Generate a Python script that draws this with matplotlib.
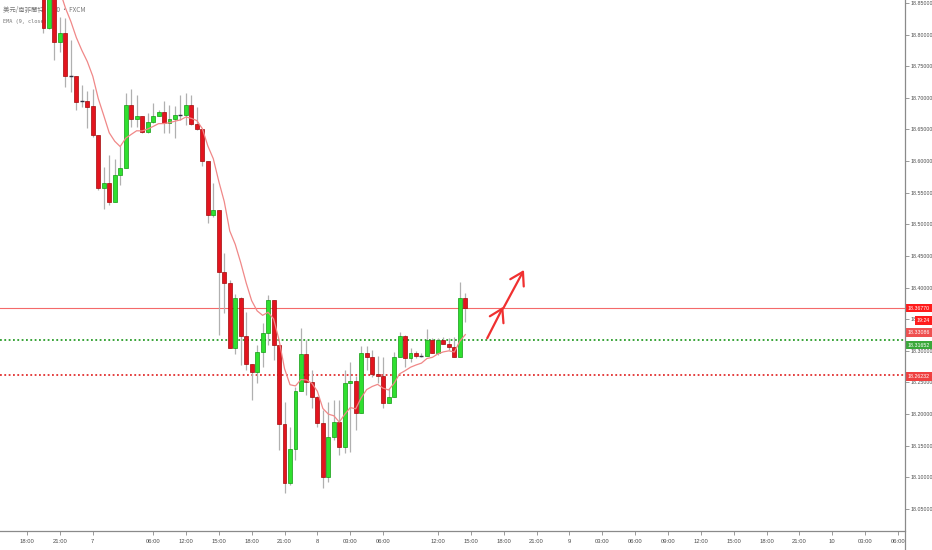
import numpy as np
import matplotlib
matplotlib.use("Agg")
import matplotlib.pyplot as plt
from matplotlib.patches import Rectangle
from matplotlib.lines import Line2D
from matplotlib.transforms import blended_transform_factory

# ---------------- data (USD/ZAR, 30 min candles) ----------------
opens = [18.8674, 18.8100, 18.8626, 18.7883, 18.8026, 18.7346, 18.7346, 18.6950, 18.6955, 18.6872,
         18.6413, 18.5575, 18.5654, 18.5354, 18.5781, 18.5891, 18.6887, 18.6661, 18.6713, 18.6465,
         18.6623, 18.6713, 18.6772, 18.6598, 18.6661, 18.6729, 18.6729, 18.6887, 18.6582, 18.6503,
         18.6002, 18.5148, 18.5227, 18.4252, 18.4078, 18.3041, 18.3841, 18.3240, 18.2788, 18.2671,
         18.2987, 18.3278, 18.3804, 18.3093, 18.1839, 18.0906, 18.1444, 18.2370, 18.2951, 18.2513,
         18.2276, 18.1855, 18.1001, 18.1643, 18.1871, 18.1476, 18.2487, 18.2524, 18.2013, 18.2962,
         18.2899, 18.2634, 18.2603, 18.2171, 18.2266, 18.2908, 18.3235, 18.2883, 18.2962, 18.2924,
         18.2924, 18.3172, 18.2971, 18.3172, 18.3109, 18.3066, 18.2908, 18.3831]
closes = [18.8100, 18.8626, 18.7879, 18.8026, 18.7346, 18.7346, 18.6935, 18.6950, 18.6861, 18.6413,
          18.5575, 18.5654, 18.5354, 18.5781, 18.5891, 18.6887, 18.6661, 18.6713, 18.6465, 18.6623,
          18.6713, 18.6772, 18.6598, 18.6661, 18.6729, 18.6729, 18.6887, 18.6582, 18.6503, 18.6002,
          18.5148, 18.5227, 18.4252, 18.4078, 18.3041, 18.3841, 18.3240, 18.2788, 18.2671, 18.2987,
          18.3278, 18.3804, 18.3093, 18.1839, 18.0906, 18.1444, 18.2370, 18.2951, 18.2513, 18.2276,
          18.1855, 18.1001, 18.1643, 18.1871, 18.1476, 18.2487, 18.2524, 18.2013, 18.2962, 18.2899,
          18.2634, 18.2603, 18.2171, 18.2266, 18.2908, 18.3235, 18.2883, 18.2962, 18.2919, 18.2924,
          18.3172, 18.2971, 18.3172, 18.3109, 18.3066, 18.2908, 18.3831, 18.3677]
highs = [18.8785, 18.8700, 18.8700, 18.8279, 18.8263, 18.7915, 18.7350, 18.7204, 18.7109, 18.7140,
         18.6420, 18.5907, 18.6097, 18.6034, 18.6239, 18.7082, 18.7136, 18.7045, 18.6715, 18.6761,
         18.6919, 18.6808, 18.6955, 18.6887, 18.6872, 18.7045, 18.7082, 18.7045, 18.6861, 18.6505,
         18.6005, 18.5659, 18.5230, 18.4547, 18.4121, 18.3899, 18.3845, 18.3619, 18.2790, 18.3093,
         18.3441, 18.3883, 18.3806, 18.3095, 18.2197, 18.1801, 18.2434, 18.3357, 18.3172, 18.2698,
         18.2280, 18.2065, 18.2197, 18.2223, 18.2223, 18.2698, 18.2829, 18.2603, 18.3077, 18.3077,
         18.3014, 18.2919, 18.2903, 18.2413, 18.2987, 18.3303, 18.3251, 18.3046, 18.2998, 18.2966,
         18.3341, 18.3199, 18.3204, 18.3224, 18.3199, 18.3224, 18.4093, 18.3910]
lows = [18.8021, 18.8095, 18.7599, 18.7725, 18.7172, 18.7093, 18.6808, 18.6856, 18.6524, 18.6381,
        18.5544, 18.5243, 18.5307, 18.5350, 18.5623, 18.5890, 18.6544, 18.6544, 18.6449, 18.6445,
        18.6609, 18.6710, 18.6445, 18.6445, 18.6366, 18.6650, 18.6571, 18.6571, 18.6492, 18.5923,
        18.5027, 18.5117, 18.3251, 18.3599, 18.3040, 18.2951, 18.2777, 18.2698, 18.2223, 18.2492,
        18.2750, 18.3093, 18.2856, 18.1433, 18.0758, 18.0880, 18.1275, 18.2368, 18.2300, 18.2097,
        18.1800, 18.0827, 18.0922, 18.1591, 18.1354, 18.1386, 18.1406, 18.1749, 18.2010, 18.2698,
        18.2592, 18.2492, 18.2097, 18.2168, 18.2264, 18.2905, 18.2750, 18.2829, 18.2888, 18.2903,
        18.2922, 18.2969, 18.2935, 18.3107, 18.3014, 18.2906, 18.2905, 18.3454]
ema_period = 9
ema_seed = 18.95          # EMA value before the first visible bar

# horizontal levels
last_price = 18.36770
support_green = 18.31652
support_red = 18.26232
ema_label = 18.33086
countdown = "19:24"

# time axis (bar index -> label)
xtick_pos = [-3, 3, 9, 20, 26, 32, 38, 44, 50, 56, 62, 72, 78, 84, 90, 96, 102, 108, 114, 120,
             126, 132, 138, 144, 150, 156]
xtick_lab = ["18:00", "21:00", "7", "06:00", "12:00", "15:00", "18:00", "21:00", "8", "03:00",
             "06:00", "12:00", "15:00", "18:00", "21:00", "9", "03:00", "06:00", "09:00", "12:00",
             "15:00", "18:00", "21:00", "10", "03:00", "06:00"]
ytick_vals = [18.05, 18.10, 18.15, 18.20, 18.25, 18.30, 18.35, 18.40, 18.45, 18.50, 18.55,
              18.60, 18.65, 18.70, 18.75, 18.80, 18.85]

# hand-drawn arrows (tail -> head) in (bar index, price)
arrows = [((81.0, 18.3199), (83.94, 18.3698)),
          ((83.94, 18.3673), (87.71, 18.4279))]

title_text = "美元/南非蘭特 · 30 · FXCM"
ema_text = "EMA (9, close)"

# ---------------- drawing ----------------
W, H = 932, 550
fig = plt.figure(figsize=(W / 100, H / 100), dpi=100)
fig.patch.set_facecolor("white")
axB, axR = 19, 905
ax = fig.add_axes([0, axB / H, axR / W, (H - axB) / H])
ax.set_facecolor("white")

ax.set_xlim(-7.94, 157.27)
ax.set_ylim(18.0152, 18.8547)

o = np.array(opens); c = np.array(closes); hi = np.array(highs); lo = np.array(lows)
x = np.arange(len(o))
up = c > o
dn = c < o
dj = c == o

GREEN = "#2fe02f"; GREEN_E = "#139a13"
RED = "#e3141e"; RED_E = "#a00a0a"
bw = 0.72

ax.vlines(x, lo, hi, color="#b0b0b0", lw=0.9, zorder=2)
ax.bar(x[up], (c - o)[up], bottom=o[up], width=bw, color=GREEN, edgecolor=GREEN_E, lw=0.5, zorder=3)
ax.bar(x[dn], (o - c)[dn], bottom=c[dn], width=bw, color=RED, edgecolor=RED_E, lw=0.5, zorder=3)
ax.hlines(c[dj], x[dj] - bw / 2, x[dj] + bw / 2, color="#333344", lw=1.0, zorder=3)

# EMA
alpha = 2 / (ema_period + 1)
ema = []
prev = ema_seed
for v in closes:
    prev = alpha * v + (1 - alpha) * prev
    ema.append(prev)
ax.plot(x, ema, color="#f08888", lw=0.9, zorder=4)

# levels
ax.axhline(last_price, color="#f46a6a", lw=0.8, zorder=1.5)
ax.axhline(support_green, color="#2a9d2a", lw=1.3, ls=(0, (1, 1.4)), zorder=1.5)
ax.axhline(support_red, color="#e23030", lw=1.3, ls=(0, (1, 1.4)), zorder=1.5)

# arrows
for tail, head in arrows:
    ax.annotate("", xy=head, xytext=tail,
                arrowprops=dict(arrowstyle="->,head_length=0.9,head_width=0.55",
                                color="#f03030", lw=1.6, mutation_scale=10,
                                shrinkA=0, shrinkB=0), zorder=5)

# legend text (behind candles)
ax.text(3 / axR, 1 - 10 / (H - axB), title_text, transform=ax.transAxes, fontsize=4.6,
        color="#777777", va="center", ha="left", zorder=0.5,
        family=["Noto Sans CJK TC", "DejaVu Sans"])
ax.text(3 / axR, 1 - 22 / (H - axB), ema_text, transform=ax.transAxes, fontsize=3.8,
        color="#777777", va="center", ha="left", zorder=0.5, family="DejaVu Sans Mono")

# axes styling
for s in ("left", "top", "right"):
    ax.spines[s].set_visible(False)
ax.spines["bottom"].set_color("#8a8a8a")
ax.spines["bottom"].set_linewidth(0.9)
fig.add_artist(Line2D([axR / W, axR / W], [0, 1], transform=fig.transFigure,
                      color="#8a8a8a", lw=0.9))

tickfont = "Liberation Sans"
ax.yaxis.tick_right()
ax.set_yticks(ytick_vals)
ax.set_yticklabels([f"{v:.5f}" for v in ytick_vals])
ax.set_xticks(xtick_pos)
ax.set_xticklabels(xtick_lab)
ax.tick_params(axis="y", length=3, width=0.6, color="#8a8a8a", labelsize=3.8,
               labelcolor="#4a4a4a", pad=1)
ax.tick_params(axis="x", length=3, width=0.6, color="#8a8a8a", labelsize=4.2,
               labelcolor="#4a4a4a", pad=2.5)
for lab in ax.get_xticklabels() + ax.get_yticklabels():
    lab.set_family(tickfont)

# price labels on the right scale
ppx = (ax.get_ylim()[1] - ax.get_ylim()[0]) / (H - axB)   # price per pixel
bt = blended_transform_factory(ax.transAxes, ax.transData)
boxes = [
    (f"{last_price:.5f}", last_price, 0.0, 906, 932, "#ff1c1c"),
    (countdown, last_price, -12.7, 915, 932, "#ff1c1c"),
    (f"{ema_label:.5f}", ema_label, -1.0, 906, 932, "#ef5050"),
    (f"{support_green:.5f}", support_green, -4.6, 906, 932, "#3aa83a"),
    (f"{support_red:.5f}", support_red, -1.6, 906, 932, "#ef4040"),
]
for txt, price, off_px, x0, x1, col in boxes:
    yc = price + off_px * ppx
    hh = 4.3 * ppx
    r = Rectangle((x0 / axR, yc - hh), (x1 - x0) / axR, 2 * hh, transform=bt,
                  facecolor=col, edgecolor="none", clip_on=False, zorder=10)
    ax.add_artist(r)
    ax.text((x0 + x1) / 2 / axR, yc, txt, transform=bt, ha="center", va="center",
            fontsize=3.8, color="white", family=tickfont,
            clip_on=False, zorder=11)

fig.savefig("out.png", dpi=100, facecolor="white")
